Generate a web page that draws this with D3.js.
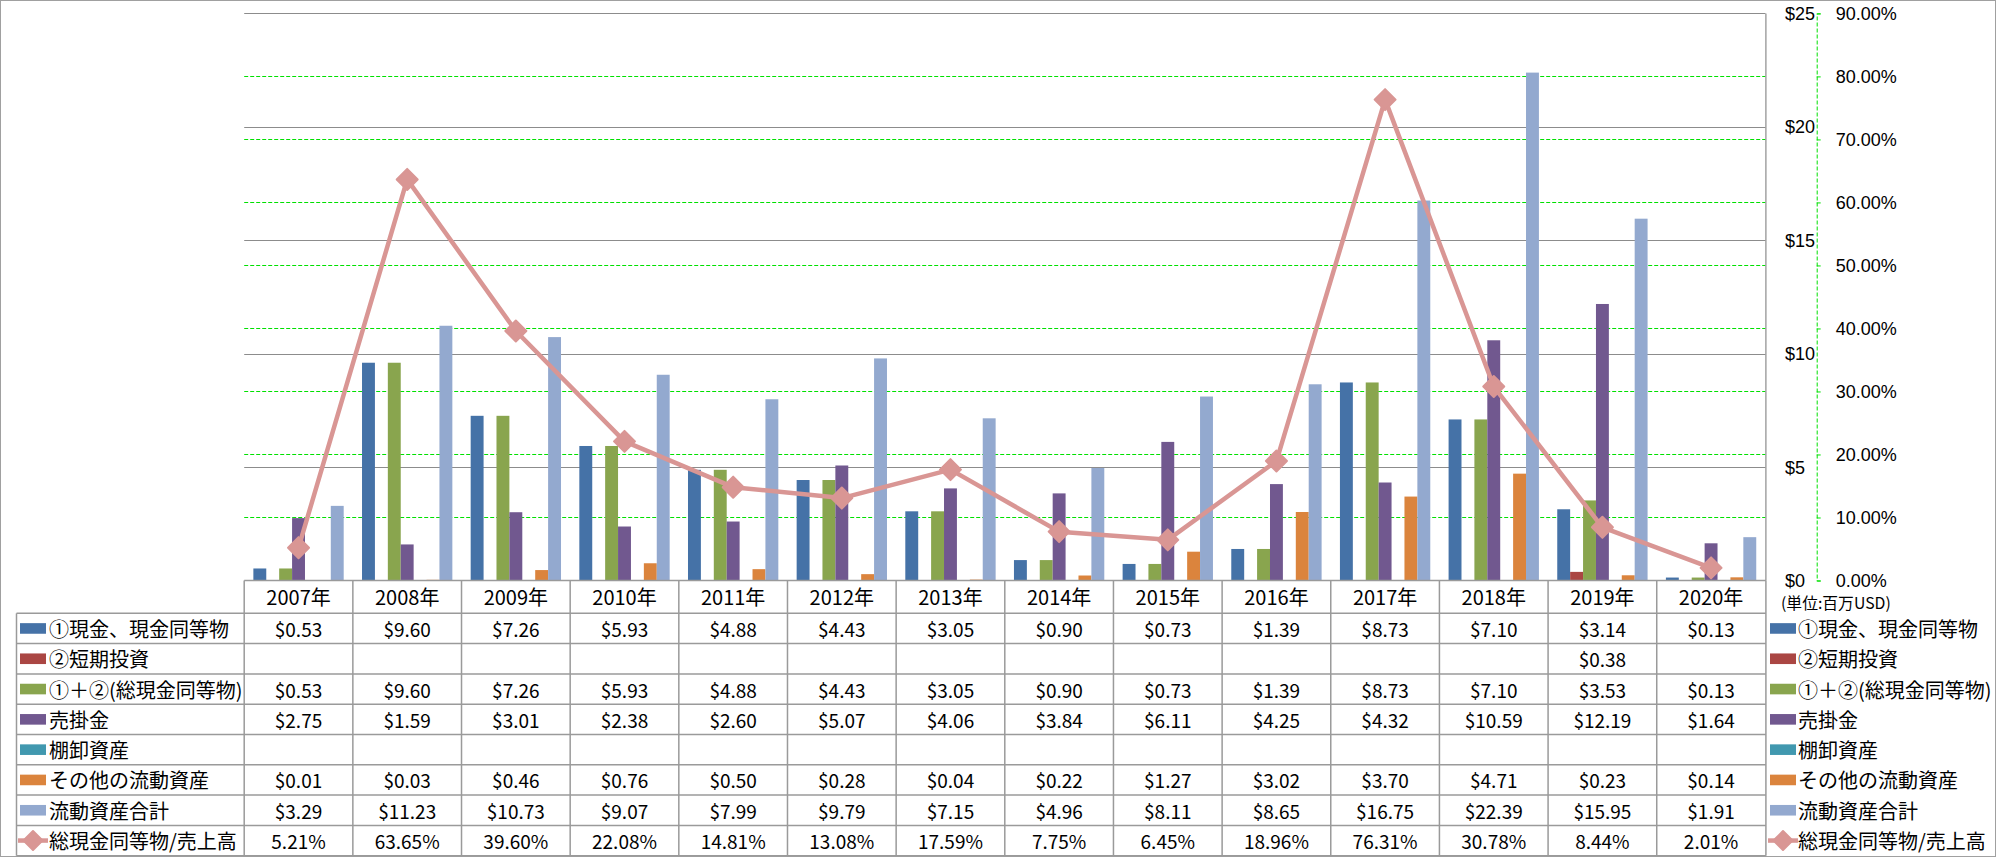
<!DOCTYPE html>
<html>
<head>
<meta charset="utf-8">
<script src="https://cdn.jsdelivr.net/npm/d3@7"></script>
<style>
  html, body { margin: 0; padding: 0; background: #fff; }
  svg text { font-family: "Noto Sans CJK JP", "Liberation Sans", sans-serif; fill: #000; }
  svg text.axislbl { font-family: "Liberation Sans", sans-serif; }
</style>
</head>
<body>
<svg id="chart" width="1997" height="858"></svg>
<script>
// ---------- DATA ----------
const years = ["2007年","2008年","2009年","2010年","2011年","2012年","2013年","2014年","2015年","2016年","2017年","2018年","2019年","2020年"];
const seriesNames = ["①現金、現金同等物","②短期投資","①＋②(総現金同等物)","売掛金","棚卸資産","その他の流動資産","流動資産合計"];
const cash        = [0.53, 9.60, 7.26, 5.93, 4.88, 4.43, 3.05, 0.90, 0.73, 1.39, 8.73, 7.10, 3.14, 0.13];
const shortInv    = [null, null, null, null, null, null, null, null, null, null, null, null, 0.38, null];
const totalCash   = [0.53, 9.60, 7.26, 5.93, 4.88, 4.43, 3.05, 0.90, 0.73, 1.39, 8.73, 7.10, 3.53, 0.13];
const receivables = [2.75, 1.59, 3.01, 2.38, 2.60, 5.07, 4.06, 3.84, 6.11, 4.25, 4.32, 10.59, 12.19, 1.64];
const inventory   = [null, null, null, null, null, null, null, null, null, null, null, null, null, null];
const otherCA     = [0.01, 0.03, 0.46, 0.76, 0.50, 0.28, 0.04, 0.22, 1.27, 3.02, 3.70, 4.71, 0.23, 0.14];
const totalCA     = [3.29, 11.23, 10.73, 9.07, 7.99, 9.79, 7.15, 4.96, 8.11, 8.65, 16.75, 22.39, 15.95, 1.91];
const lineName    = "総現金同等物/売上高";
const ratio       = [5.21, 63.65, 39.60, 22.08, 14.81, 13.08, 17.59, 7.75, 6.45, 18.96, 76.31, 30.78, 8.44, 2.01];
const dollarTicks = [0, 5, 10, 15, 20, 25];
const pctTicks    = [0, 10, 20, 30, 40, 50, 60, 70, 80, 90];
const unitLabel   = "(単位:百万USD)";

const seriesValues = [cash, shortInv, totalCash, receivables, inventory, otherCA, totalCA];
const colors = ["#4572A7","#AA4643","#89A54E","#71588F","#4198AF","#DB843D","#93A9CF"];
const lineColor = "#D99694";

// ---------- LAYOUT ----------
const W = 1997, H = 858;
const plotL = 244.2, plotR = 1765.4, plotT = 13.4, plotB = 580.5;
const tableTop = 580.5, headerB = 613.3, rowH = 30.3;
const tableL = 16.5;
const gray = "#8c8c8c", tgray = "#9a9a9a", green = "#00e000";
const fs = 19, fsLeg = 20, fsAxis = 18;

const svg = d3.select("#chart");

// outer border
svg.append("rect").attr("x",0.5).attr("y",0.5).attr("width",W-2).attr("height",H-2)
  .attr("fill","#fff").attr("stroke","#a0a0a0").attr("stroke-width",1);

// scales
const x0 = d3.scaleBand().domain(years).range([plotL, plotR]).padding(0);
const x1 = d3.scaleBand().domain(d3.range(seriesNames.length)).range([0, x0.bandwidth()]).paddingInner(0).paddingOuter(0.71);
const y = d3.scaleLinear().domain([0, 25]).range([plotB, plotT]);
const y2 = d3.scaleLinear().domain([0, 90]).range([plotB, plotT]);

// percent gridlines (green dashed)
svg.append("g").selectAll("line").data(pctTicks.filter(t => t > 0 && t < 90)).join("line")
  .attr("x1", plotL).attr("x2", plotR)
  .attr("y1", d => Math.round(y2(d)) + 0.5).attr("y2", d => Math.round(y2(d)) + 0.5)
  .attr("stroke", green).attr("stroke-width", 1).attr("stroke-dasharray", "4,2");

// dollar gridlines (solid gray)
svg.append("g").selectAll("line").data(dollarTicks.filter(t => t > 0)).join("line")
  .attr("x1", plotL).attr("x2", plotR)
  .attr("y1", d => Math.round(y(d)) + 0.5).attr("y2", d => Math.round(y(d)) + 0.5)
  .attr("stroke", gray).attr("stroke-width", 1.2);

// bars
const barG = svg.append("g");
seriesValues.forEach((vals, si) => {
  barG.append("g").selectAll("rect")
    .data(vals.map((v, i) => ({ v, year: years[i] })).filter(d => d.v != null && d.v > 0))
    .join("rect")
    .attr("x", d => x0(d.year) + x1(si))
    .attr("width", x1.bandwidth())
    .attr("y", d => y(d.v))
    .attr("height", d => y(0) - y(d.v))
    .attr("fill", colors[si]);
});

// diamond path helper
function diamond(r) { return `M0,${-r}L${r},0L0,${r}L${-r},0Z`; }

// line series
const lineGen = d3.line().x((d, i) => x0(years[i]) + x0.bandwidth() / 2).y(d => y2(d));
svg.append("path").datum(ratio).attr("d", lineGen)
  .attr("fill", "none").attr("stroke", lineColor).attr("stroke-width", 4.5).attr("stroke-linejoin", "round");
svg.append("g").selectAll("path").data(ratio).join("path")
  .attr("transform", (d, i) => `translate(${x0(years[i]) + x0.bandwidth() / 2},${y2(d)})`)
  .attr("d", diamond(10.5))
  .attr("fill", lineColor).attr("stroke", lineColor).attr("stroke-width", 2).attr("stroke-linejoin", "round");

// plot right edge line
svg.append("line").attr("x1", plotR + 0.5).attr("x2", plotR + 0.5).attr("y1", plotT).attr("y2", tableTop)
  .attr("stroke", gray).attr("stroke-width", 1.2);

// $ axis (labels left-aligned at 1785)
const yAxis = d3.axisRight(y).tickValues(dollarTicks).tickSize(0).tickFormat(d => "$" + d);
const ya = svg.append("g").attr("transform", "translate(1785,0)").call(yAxis);
ya.select(".domain").remove();
ya.selectAll("text").attr("class", "axislbl").attr("x", 0).attr("dy", null).attr("dominant-baseline", "central")
  .attr("text-anchor", "start").style("font-size", fsAxis + "px").attr("font-family", null);

// % axis
const y2Axis = d3.axisRight(y2).tickValues(pctTicks).tickSize(4).tickFormat(d => d.toFixed(2) + "%");
const y2a = svg.append("g").attr("transform", "translate(1816.7,0)").call(y2Axis);
y2a.select(".domain").attr("stroke", green).attr("stroke-dasharray", "4,2").attr("stroke-width", 1);
y2a.selectAll(".tick line").attr("stroke", green);
y2a.selectAll("text").attr("class", "axislbl").attr("x", 19).attr("dy", null).attr("dominant-baseline", "central")
  .attr("text-anchor", "start").style("font-size", fsAxis + "px").attr("font-family", null);
ya.attr("font-family", null); y2a.attr("font-family", null);

// unit label
svg.append("text").attr("x", 1781).attr("y", 602.3).attr("dominant-baseline", "central")
  .style("font-size", "15.8px").text(unitLabel);

// ---------- TABLE ----------
const tg = svg.append("g");
const nRows = seriesNames.length + 1;
const tableB = headerB + rowH * nRows;
tg.append("line").attr("x1", plotL).attr("x2", plotR + 0.5).attr("y1", tableTop).attr("y2", tableTop)
  .attr("stroke", tgray).attr("stroke-width", 1.5);
d3.range(nRows + 1).forEach(r => {
  const yy = headerB + r * rowH;
  tg.append("line").attr("x1", tableL).attr("x2", plotR + 0.5).attr("y1", yy).attr("y2", yy)
    .attr("stroke", tgray).attr("stroke-width", 1.5);
});
tg.append("line").attr("x1", tableL).attr("x2", tableL).attr("y1", headerB).attr("y2", tableB)
  .attr("stroke", tgray).attr("stroke-width", 1.5);
years.forEach(yr => {
  tg.append("line").attr("x1", x0(yr)).attr("x2", x0(yr)).attr("y1", tableTop).attr("y2", tableB)
    .attr("stroke", tgray).attr("stroke-width", 1.5);
});
tg.append("line").attr("x1", plotR + 0.5).attr("x2", plotR + 0.5).attr("y1", tableTop).attr("y2", tableB)
  .attr("stroke", tgray).attr("stroke-width", 1.5);

// year header via axis
const xAxis = d3.axisBottom(x0).tickSize(0).tickPadding(0);
const xa = svg.append("g").attr("transform", `translate(0,${(tableTop + headerB) / 2})`).call(xAxis);
xa.select(".domain").remove();
xa.attr("font-family", null);
xa.selectAll("text").attr("y", 0).attr("dy", null).attr("dominant-baseline", "central")
  .style("font-size", fsLeg + "px");

// table cell values
const allRows = seriesValues.map((vals, si) => ({ name: seriesNames[si], vals, fmt: v => "$" + v.toFixed(2) }));
allRows.push({ name: lineName, vals: ratio, fmt: v => v.toFixed(2) + "%" });
allRows.forEach((row, r) => {
  const cy = headerB + rowH * (r + 0.5);
  tg.append("g").selectAll("text")
    .data(row.vals.map((v, i) => ({ v, i })).filter(d => d.v != null))
    .join("text")
    .attr("x", d => x0(years[d.i]) + x0.bandwidth() / 2)
    .attr("y", cy).attr("text-anchor", "middle").attr("dominant-baseline", "central")
    .style("font-size", fs + "px")
    .text(d => row.fmt(d.v));
});

// legends (left inside table, and right)
function legendKey(g, r, kx) {
  const cy = headerB + rowH * (r + 0.5);
  if (r < seriesNames.length) {
    g.append("rect").attr("x", kx).attr("y", cy - 5.3).attr("width", 26).attr("height", 10.6).attr("fill", colors[r]);
  } else {
    g.append("line").attr("x1", kx - 2).attr("x2", kx + 28).attr("y1", cy).attr("y2", cy)
      .attr("stroke", lineColor).attr("stroke-width", 4.5);
    g.append("path").attr("transform", `translate(${kx + 13},${cy})`).attr("d", diamond(9.5))
      .attr("fill", lineColor).attr("stroke", lineColor).attr("stroke-width", 2).attr("stroke-linejoin", "round");
  }
}
const legL = svg.append("g"), legR = svg.append("g");
allRows.forEach((row, r) => {
  const cy = headerB + rowH * (r + 0.5);
  legendKey(legL, r, 20);
  legL.append("text").attr("x", 49).attr("y", cy).attr("dominant-baseline", "central")
    .style("font-size", fsLeg + "px").text(row.name);
  legendKey(legR, r, 1770);
  legR.append("text").attr("x", 1798).attr("y", cy).attr("dominant-baseline", "central")
    .style("font-size", fsLeg + "px").text(row.name);
});
</script>
</body>
</html>
